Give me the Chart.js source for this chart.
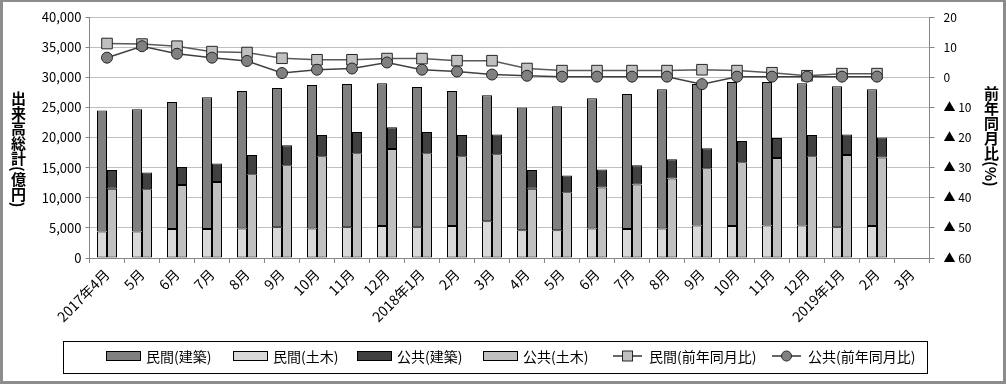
<!DOCTYPE html>
<html><head><meta charset="utf-8">
<script src="https://cdn.jsdelivr.net/npm/chart.js@4.4.0/dist/chart.umd.min.js"></script>
<style>
html,body{margin:0;padding:0;background:#fff;}
#wrap{position:relative;width:1006px;height:384px;overflow:hidden;background:#fff;}
#frame{position:absolute;left:0;top:0;width:1006px;height:384px;box-sizing:border-box;border:3px solid #8c8c8c;border-top-width:2px;pointer-events:none;}
.vt{position:absolute;writing-mode:vertical-rl;text-orientation:mixed;white-space:nowrap;font:bold 15px "Noto Sans CJK JP";line-height:16px;color:#000;}
</style></head><body>
<div id="wrap">
<canvas id="c" width="1006" height="384"></canvas>
<div class="vt" style="left:10px;top:91px;">出来高総計(億円)</div>
<div class="vt" style="left:983px;top:86px;">前年同月比(%)</div>
<div id="frame"></div>
</div>
<script>
const categories = ['2017年4月','5月','6月','7月','8月','9月','10月','11月','12月','2018年1月','2月','3月',
  '4月','5月','6月','7月','8月','9月','10月','11月','12月','2019年1月','2月','3月'];
const minkanKenchiku = [20100,20300,21100,21900,22800,23100,23800,23800,23700,23300,22400,20900,
  20400,20600,21600,22400,23100,23500,23900,23800,23600,23400,22700,null];
const minkanDoboku = [4400,4400,4800,4800,4900,5100,4900,5100,5300,5100,5300,6100,
  4600,4600,4900,4800,4900,5400,5300,5400,5400,5100,5300,null];
const koukyouKenchiku = [3100,2800,3000,3100,3200,3300,3500,3500,3600,3500,3500,3300,
  3100,2800,3000,3200,3200,3300,3500,3300,3500,3400,3300,null];
const koukyouDoboku = [11500,11400,12100,12600,13900,15400,16900,17400,18100,17400,16900,17200,
  11500,10900,11700,12200,13200,14900,15900,16600,16900,17100,16700,null];
const minkanYoY = [11.2,11.0,10.3,8.5,8.2,6.3,5.8,5.8,6.2,6.2,5.5,5.5,
  2.9,2.2,2.2,2.2,2.2,2.5,2.2,1.5,0.5,1.2,1.2,null];
const koukyouYoY = [6.5,10.3,7.8,6.5,5.4,1.4,2.5,2.9,4.9,2.5,1.9,0.9,
  0.5,0.2,0.2,0.2,0.2,-2.3,0.2,0.2,0.2,0.2,0.2,null];
const leftTicks = {min:0, max:40000, step:5000};
const rightTicks = {min:-60, max:20, step:10};
const seriesNames = ['民間(建築)','民間(土木)','公共(建築)','公共(土木)','民間(前年同月比)','公共(前年同月比)'];

const C = {
  mk:'#808080', md:'#D9D9D9', kk:'#404040', kd:'#C0C0C0',
  grid:'#BFBFBF', axis:'#868686'
};
const JP = '"Noto Sans CJK JP", "Noto Sans", sans-serif';

const barCommon = {borderColor:'#000', borderWidth:1, borderSkipped:false, inflateAmount:0,
  categoryPercentage:0.5714, barPercentage:1.0, order:2, yAxisID:'y'};

const legendPlugin = {
  id:'customLegend',
  afterDraw(chart){
    const ctx = chart.ctx;
    ctx.save();
    ctx.strokeStyle = '#000'; ctx.lineWidth = 1;
    ctx.strokeRect(63.5, 341.5, 864, 32);
    const cy = 356;
    const xs = [106, 233, 357, 483, 613, 772];
    const kinds = [
      {t:'box', f:C.mk},{t:'box', f:C.md},{t:'box', f:C.kk},{t:'box', f:C.kd},
      {t:'sq', f:C.kd, l:'#000'},{t:'ci', f:C.mk, l:'#000'}
    ];
    ctx.font = '14px ' + JP;
    ctx.textBaseline = 'middle';
    kinds.forEach((k, i) => {
      const x = xs[i];
      let tx;
      if (k.t === 'box') {
        ctx.fillStyle = k.f;
        ctx.fillRect(x + 0.5, cy - 4.5, 34, 9);
        ctx.strokeStyle = '#000';
        ctx.strokeRect(x + 0.5, cy - 4.5, 34, 9);
        tx = x + 40;
      } else {
        ctx.strokeStyle = k.l; ctx.lineWidth = 1.2;
        ctx.beginPath(); ctx.moveTo(x, cy); ctx.lineTo(x + 29, cy); ctx.stroke();
        ctx.lineWidth = 1;
        ctx.fillStyle = k.f; ctx.strokeStyle = '#262626';
        if (k.t === 'sq') {
          ctx.fillRect(x + 9.5, cy - 5, 10, 10);
          ctx.strokeRect(x + 9.5, cy - 5, 10, 10);
        } else {
          ctx.beginPath(); ctx.arc(x + 14.5, cy, 5, 0, Math.PI * 2); ctx.fill(); ctx.stroke();
        }
        tx = x + 36;
      }
      ctx.fillStyle = '#000';
      ctx.fillText(seriesNames[i], tx, cy + 1);
    });
    ctx.restore();
  }
};

new Chart(document.getElementById('c'), {
  type:'bar',
  data:{
    labels: categories,
    datasets:[
      Object.assign({label:seriesNames[1], data:minkanDoboku, backgroundColor:C.md, stack:'minkan'}, barCommon),
      Object.assign({label:seriesNames[0], data:minkanKenchiku, backgroundColor:C.mk, stack:'minkan'}, barCommon),
      Object.assign({label:seriesNames[3], data:koukyouDoboku, backgroundColor:C.kd, stack:'koukyou'}, barCommon),
      Object.assign({label:seriesNames[2], data:koukyouKenchiku, backgroundColor:C.kk, stack:'koukyou'}, barCommon),
      {type:'line', label:seriesNames[4], data:minkanYoY, yAxisID:'y2', order:1,
        borderColor:'#595959', borderWidth:1.5, pointStyle:'rect', pointRadius:7.5,
        pointBackgroundColor:C.kd, pointBorderColor:'#262626', pointBorderWidth:1, tension:0},
      {type:'line', label:seriesNames[5], data:koukyouYoY, yAxisID:'y2', order:0,
        borderColor:'#404040', borderWidth:1.5, pointStyle:'circle', pointRadius:5.5,
        pointBackgroundColor:C.mk, pointBorderColor:'#262626', pointBorderWidth:1, tension:0}
    ]
  },
  options:{
    responsive:false, animation:false, devicePixelRatio:1, events:[],
    layout:{padding:{left:0, right:0, top:17, bottom:0}},
    plugins:{legend:{display:false}, tooltip:{enabled:false}, title:{display:false}},
    scales:{
      x:{
        type:'category',
        grid:{offset:true, drawOnChartArea:false, tickLength:5, tickColor:C.axis},
        border:{color:C.axis},
        ticks:{autoSkip:false, maxRotation:45, minRotation:45, padding:3, color:'#000',
          font:{family:JP, size:14}},
        afterFit(s){ s.height = 126; }
      },
      y:{
        position:'left', stacked:true, min:leftTicks.min, max:leftTicks.max,
        grid:{color:C.grid, tickLength:4, tickColor:C.axis},
        border:{color:C.axis},
        ticks:{stepSize:leftTicks.step, padding:4, color:'#000', font:{family:JP, size:13},
          callback:(v)=>Number(v).toLocaleString('en-US')},
        afterFit(s){ s.width = 89.5; }
      },
      y2:{
        position:'right', stacked:false, min:rightTicks.min, max:rightTicks.max,
        grid:{drawOnChartArea:false, tickLength:5, tickColor:C.axis},
        border:{color:C.axis},
        ticks:{stepSize:rightTicks.step, padding:9, color:'#000', font:{family:JP, size:12},
          callback:(v)=> v < 0 ? '▲ ' + (-v) : String(v)},
        afterFit(s){ s.width = 76.5; }
      }
    }
  },
  plugins:[legendPlugin]
});
</script>
</body></html>
